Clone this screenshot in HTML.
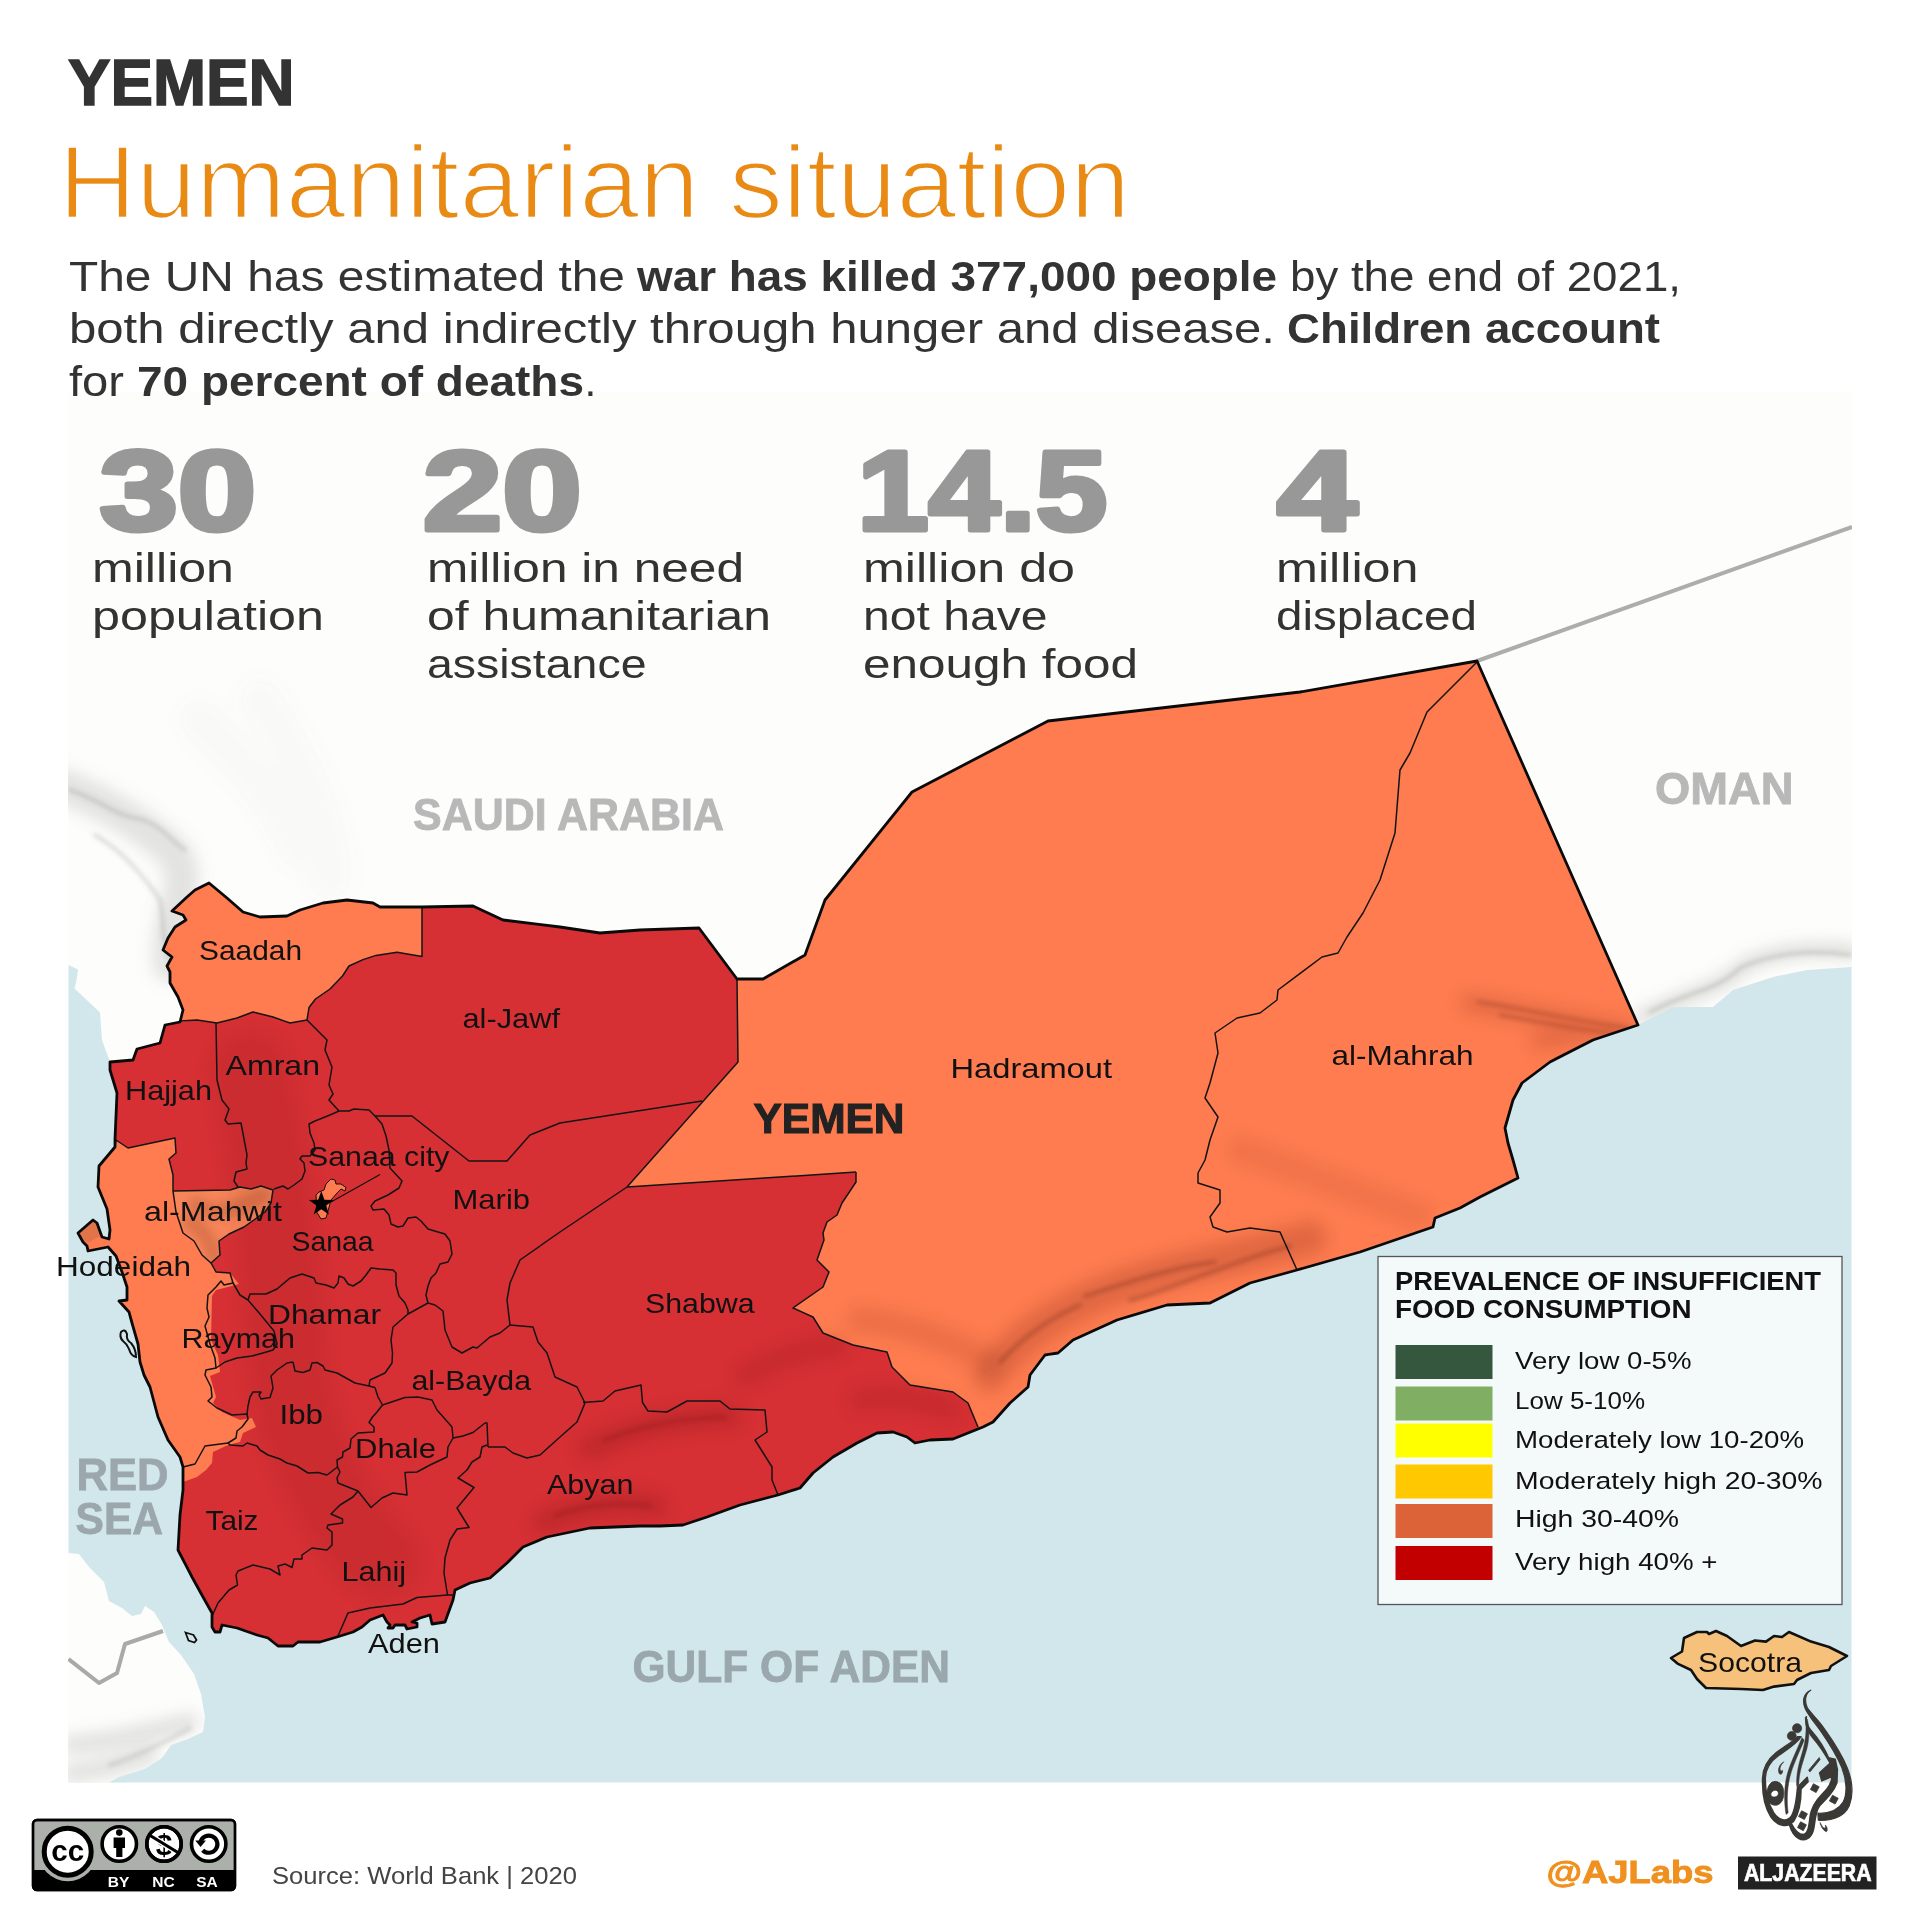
<!DOCTYPE html>
<html lang="en"><head><meta charset="utf-8"><title>Yemen - Humanitarian situation</title>
<style>html,body{margin:0;padding:0;background:#fff}svg{display:block}text{font-family:"Liberation Sans",sans-serif}.b{font-weight:bold}.gl{fill:#111}</style></head><body>
<svg width="1921" height="1921" viewBox="0 0 1921 1921">
<defs><clipPath id="yemclip"><polygon points="209,883 227,898 243,912 260,917 287,916 300,910 323,903 347,900 373,903 380,907 422,907 473,906 503,920 560,927 600,933 640,930 699,928 737,979 763,979 805,955 825,900 912,792 1048,721 1300,692 1477,661 1638,1025 1593,1040 1550,1062 1522,1083 1513,1100 1505,1128 1508,1143 1513,1160 1518,1178 1480,1197 1460,1208 1435,1218 1433,1227 1360,1252 1297,1270 1250,1283 1210,1303 1167,1305 1117,1320 1073,1340 1058,1353 1045,1355 1030,1375 1028,1387 1010,1403 993,1422 983,1427 968,1433 953,1439 930,1440 915,1443 907,1437 893,1432 877,1433 857,1443 833,1457 813,1473 800,1488 778,1495 740,1505 707,1517 683,1525 660,1526 640,1526 590,1528 547,1537 523,1547 507,1563 490,1578 470,1583 455,1590 453,1600 445,1622 432,1624 430,1615 420,1618 412,1622 417,1623 417,1627 407,1629 405,1625 395,1625 393,1628 388,1628 390,1625 387,1622 383,1615 370,1620 362,1627 353,1632 337,1637 320,1642 298,1642 293,1646 278,1646 268,1638 257,1635 237,1628 222,1625 220,1632 215,1632 212,1627 212,1613 203,1597 192,1577 178,1550 180,1515 183,1490 183,1467 180,1457 168,1440 158,1417 150,1387 144,1375 140,1362 138,1344 132,1323 129,1312 119,1301 127,1300 127,1287 122,1272 116,1256 108,1247 88,1251 87,1246 83,1242 78,1233 93,1220 97,1223 102,1237 109,1239 110,1230 107,1209 98,1187 99,1166 115,1147 115,1139 117,1093 110,1070 110,1062 133,1060 137,1049 160,1043 165,1025 180,1022 183,1010 178,997 170,983 170,972 167,966 172,957 163,950 168,938 175,927 186,920 183,915 172,911 187,897 195,890"/></clipPath><clipPath id="mapclip"><rect x="68.5" y="390" width="1783" height="1392.5"/></clipPath><filter id="blur8" x="-20%" y="-20%" width="140%" height="140%"><feGaussianBlur stdDeviation="8"/></filter><filter id="blur4" x="-20%" y="-20%" width="140%" height="140%"><feGaussianBlur stdDeviation="4"/></filter><filter id="blur2" x="-20%" y="-20%" width="140%" height="140%"><feGaussianBlur stdDeviation="2"/></filter><linearGradient id="topfade" x1="0" y1="0" x2="0" y2="1"><stop offset="0" stop-color="#fff" stop-opacity="1"/><stop offset="1" stop-color="#fff" stop-opacity="0"/></linearGradient></defs>
<rect width="1921" height="1921" fill="#fff"/>
<g clip-path="url(#mapclip)">
<rect x="68" y="390" width="1784" height="1393" fill="#fdfdfb"/>
<g fill="none" stroke-linecap="round" stroke-linejoin="round"><g filter="url(#blur8)" stroke="#7d7d79"><path d="M60,785 C110,805 150,830 175,855 C195,885 165,915 170,965" stroke-width="34" opacity="0.20"/><path d="M200,720 C240,760 280,800 300,850 M260,700 C300,760 330,820 330,880" stroke-width="44" opacity="0.03"/><path d="M1640,1018 C1690,992 1720,990 1745,965 C1780,950 1820,948 1855,952" stroke-width="12" opacity="0.30"/><path d="M70,1745 C110,1742 150,1733 190,1722 M70,1774 C100,1770 130,1762 150,1755" stroke-width="18" opacity="0.22"/></g><g filter="url(#blur2)" stroke="#6f6f6b"><path d="M70,790 C100,800 115,815 135,818 C160,822 170,840 185,850 M95,835 C120,850 140,870 160,900 C165,920 160,940 170,958" stroke-width="4" opacity="0.22"/><path d="M1650,1012 C1690,990 1715,992 1740,968 C1775,952 1810,950 1850,955" stroke-width="3" opacity="0.30"/><path d="M110,1765 C140,1755 160,1745 190,1728" stroke-width="4" opacity="0.2"/></g></g>
<polygon points="68.5,965 78,969.5 76.5,980 74.5,988.5 100,1012.5 102,1040 110,1062 110,1062 110,1070 117,1093 115,1139 115,1147 99,1166 98,1187 107,1209 110,1230 109,1239 102,1237 97,1223 93,1220 78,1233 83,1242 87,1246 88,1251 108,1247 116,1256 122,1272 127,1287 127,1300 119,1301 129,1312 132,1323 138,1344 140,1362 144,1375 150,1387 158,1417 168,1440 180,1457 183,1467 183,1490 180,1515 178,1550 192,1577 203,1597 212,1613 212,1627 215,1632 220,1632 222,1625 237,1628 257,1635 268,1638 278,1646 293,1646 298,1642 320,1642 337,1637 353,1632 362,1627 370,1620 383,1615 387,1622 390,1625 388,1628 393,1628 395,1625 405,1625 407,1629 417,1627 417,1623 412,1622 420,1618 430,1615 432,1624 445,1622 453,1600 455,1590 470,1583 490,1578 507,1563 523,1547 547,1537 590,1528 640,1526 660,1526 683,1525 707,1517 740,1505 778,1495 800,1488 813,1473 833,1457 857,1443 877,1433 893,1432 907,1437 915,1443 930,1440 953,1439 968,1433 983,1427 993,1422 1010,1403 1028,1387 1030,1375 1045,1355 1058,1353 1073,1340 1117,1320 1167,1305 1210,1303 1250,1283 1297,1270 1360,1252 1433,1227 1435,1218 1460,1208 1480,1197 1518,1178 1513,1160 1508,1143 1505,1128 1513,1100 1522,1083 1550,1062 1593,1040 1638,1025 1673,1007 1713,1007 1733,990 1773,977 1807,970 1851.5,967 1851.5,1782.5 109,1782.5 119,1777 145,1769 162,1758 171,1745 188,1739 203,1732 205,1717 201,1694 194,1674 181,1655 169,1642 162,1625 154,1612 145,1606 141,1614 132,1616 122,1608 109,1601 104,1582 89,1567 79,1554 68.5,1553" fill="#d2e7ec"/>
<polyline points="1477,661 1852,527" fill="none" stroke="#adadad" stroke-width="4"/>
<polyline points="68.5,1659 99,1683 117,1673 125,1644 163,1631" fill="none" stroke="#a9a9a9" stroke-width="4" stroke-linejoin="round"/>
<rect x="68" y="390" width="1784" height="4" fill="url(#topfade)"/>
<polygon points="209,883 227,898 243,912 260,917 287,916 300,910 323,903 347,900 373,903 380,907 422,907 473,906 503,920 560,927 600,933 640,930 699,928 737,979 763,979 805,955 825,900 912,792 1048,721 1300,692 1477,661 1638,1025 1593,1040 1550,1062 1522,1083 1513,1100 1505,1128 1508,1143 1513,1160 1518,1178 1480,1197 1460,1208 1435,1218 1433,1227 1360,1252 1297,1270 1250,1283 1210,1303 1167,1305 1117,1320 1073,1340 1058,1353 1045,1355 1030,1375 1028,1387 1010,1403 993,1422 983,1427 968,1433 953,1439 930,1440 915,1443 907,1437 893,1432 877,1433 857,1443 833,1457 813,1473 800,1488 778,1495 740,1505 707,1517 683,1525 660,1526 640,1526 590,1528 547,1537 523,1547 507,1563 490,1578 470,1583 455,1590 453,1600 445,1622 432,1624 430,1615 420,1618 412,1622 417,1623 417,1627 407,1629 405,1625 395,1625 393,1628 388,1628 390,1625 387,1622 383,1615 370,1620 362,1627 353,1632 337,1637 320,1642 298,1642 293,1646 278,1646 268,1638 257,1635 237,1628 222,1625 220,1632 215,1632 212,1627 212,1613 203,1597 192,1577 178,1550 180,1515 183,1490 183,1467 180,1457 168,1440 158,1417 150,1387 144,1375 140,1362 138,1344 132,1323 129,1312 119,1301 127,1300 127,1287 122,1272 116,1256 108,1247 88,1251 87,1246 83,1242 78,1233 93,1220 97,1223 102,1237 109,1239 110,1230 107,1209 98,1187 99,1166 115,1147 115,1139 117,1093 110,1070 110,1062 133,1060 137,1049 160,1043 165,1025 180,1022 183,1010 178,997 170,983 170,972 167,966 172,957 163,950 168,938 175,927 186,920 183,915 172,911 187,897 195,890" fill="#d63034"/>
<polygon points="737,979 763,979 805,955 825,900 912,792 1048,721 1300,692 1477,661 1638,1025 1593,1040 1550,1062 1522,1083 1513,1100 1505,1128 1508,1143 1513,1160 1518,1178 1480,1197 1460,1208 1435,1218 1433,1227 1360,1252 1297,1270 1250,1283 1210,1303 1167,1305 1117,1320 1073,1340 1058,1353 1045,1355 1030,1375 1028,1387 1010,1403 993,1422 983,1427 978,1427 968,1403 953,1392 910,1385 892,1367 887,1352 853,1345 823,1333 813,1317 793,1308 823,1287 829,1272 817,1260 824,1240 823,1233 827,1222 837,1215 842,1203 856,1182 856,1172 627,1187 738,1062" fill="#fe7c4f"/>
<polygon points="209,883 227,898 243,912 260,917 287,916 300,910 323,903 347,900 373,903 380,907 422,907 422,956.5 397,952.3 376,955.4 363,959.6 349,966 342.5,976 330,989 315.5,999 309,1007.5 307,1020 290,1023 273,1017 253,1012 237,1018 217,1023 197,1020 180,1022 183,1010 178,997 170,983 170,972 167,966 172,957 163,950 168,938 175,927 186,920 183,915 172,911 187,897 195,890" fill="#fe7c4f"/>
<polygon points="115,1147 116,1140 128,1148 175,1138 176,1153 169,1159 173,1175 173,1191 176,1212 183,1233 194,1241 202,1255 211,1263 216,1272 230,1273 239,1284 224,1288 216,1290 212,1296 211,1340 218,1355 220,1372 210,1376 216,1397 213,1403 222,1412 240,1420 252,1418 256,1427 243,1433 240,1442 228,1445 213,1452 212,1463 206,1470 197,1477 183,1482 183,1467 180,1457 168,1440 158,1417 150,1387 144,1375 140,1362 138,1344 132,1323 129,1312 119,1301 127,1300 127,1287 122,1272 116,1256 108,1247 88,1251 87,1246 83,1242 78,1233 93,1220 97,1223 102,1237 109,1239 110,1230 107,1209 98,1187 99,1166" fill="#fe7c4f"/>
<polygon points="173,1191 230,1190 240,1187 251,1189 261,1186 273,1190 271,1203 265,1212 244,1227 229,1234 219,1241 220,1255 211,1263 202,1255 194,1241 183,1233 176,1212" fill="#f9855a"/>
<clipPath id="mahclip"><polygon points="173,1191 230,1190 240,1187 251,1189 261,1186 273,1190 271,1203 265,1212 244,1227 229,1234 219,1241 220,1255 211,1263 202,1255 194,1241 183,1233 176,1212"/></clipPath>
<g clip-path="url(#mahclip)"><path d="M196,1205 C215,1215 230,1212 262,1196 M190,1222 C205,1232 212,1245 214,1256" fill="none" stroke="#7a3a1c" stroke-width="16" stroke-linecap="round" opacity="0.22" filter="url(#blur4)"/></g>
<polygon points="83,1228 93,1221 97,1224 101,1236 96,1238 88,1243 84,1240 80,1233" fill="#e2744a"/>
<polygon points="316,1195 319,1192 324,1190 326,1184 331,1179 335,1180 336,1184 341,1184 346,1187.5 345,1191 341,1189 337.5,1192.5 331,1200 328,1211 326,1218 321,1219 317,1212.5" fill="#fe7c4f" stroke="#111" stroke-width="1"/>
<g clip-path="url(#yemclip)" fill="none" stroke-linecap="round" stroke-linejoin="round"><g filter="url(#blur8)" stroke="#4a120a"><path d="M990,1375 C1020,1335 1060,1310 1110,1290 C1170,1268 1240,1258 1310,1238" stroke-width="34" opacity="0.16"/><path d="M860,1320 C910,1325 950,1340 990,1362" stroke-width="26" opacity="0.10"/><path d="M1470,1003 C1520,1012 1570,1020 1625,1030 M1540,1040 C1570,1035 1600,1032 1625,1030" stroke-width="20" opacity="0.13"/><path d="M1240,1150 C1300,1170 1360,1195 1420,1215" stroke-width="26" opacity="0.07"/><path d="M590,1448 C640,1425 680,1418 730,1416 M545,1522 C580,1505 620,1500 655,1506" stroke-width="24" opacity="0.15"/><path d="M745,1376 C780,1356 810,1348 838,1345 M860,1400 C890,1395 920,1398 950,1410" stroke-width="22" opacity="0.11"/><path d="M250,1070 C270,1160 280,1260 285,1340 C290,1420 320,1500 380,1560" stroke-width="80" opacity="0.07"/></g><g filter="url(#blur2)" stroke="#3a0d08"><path d="M1085,1296 C1130,1282 1170,1268 1215,1262 M1000,1362 C1025,1335 1050,1318 1080,1305 M1130,1300 C1170,1290 1230,1262 1290,1246" stroke-width="4" opacity="0.22"/><path d="M1478,1002 C1530,1010 1580,1022 1628,1028 M1500,1015 C1540,1022 1580,1030 1615,1033" stroke-width="3.5" opacity="0.2"/><path d="M605,1440 C645,1424 690,1418 725,1417 M555,1516 C590,1503 620,1502 650,1506" stroke-width="4" opacity="0.16"/></g></g>
<polyline points="422,907 422,956.5 397,952.3 376,955.4 363,959.6 349,966 342.5,976 330,989 315.5,999 309,1007.5 307,1020" fill="none" stroke="#141414" stroke-width="1.5" stroke-linejoin="round"/>
<polyline points="307,1020 290,1023 273,1017 253,1012 237,1018 217,1023 197,1020 180,1021" fill="none" stroke="#141414" stroke-width="1.5" stroke-linejoin="round"/>
<polyline points="216,1023 217,1080 222,1100 229,1109 225,1120 228,1124 241,1123 244,1139 247,1155 246,1163 247,1169 236,1172 234,1181 238,1187" fill="none" stroke="#141414" stroke-width="1.5" stroke-linejoin="round"/>
<polyline points="307,1020 327,1040 325,1050 332,1067 329,1085 333,1094 329,1100 339,1111" fill="none" stroke="#141414" stroke-width="1.5" stroke-linejoin="round"/>
<polyline points="339,1111 330,1115 315,1121 309,1124 310,1133 314,1143 315,1150 310,1156 302,1156 300,1159 304,1163 305,1171 302,1179 294,1185 288,1189 283,1186 274,1189" fill="none" stroke="#141414" stroke-width="1.5" stroke-linejoin="round"/>
<polyline points="173,1191 230,1190 240,1187 251,1189 261,1186 273,1190 271,1203 265,1212 244,1227 229,1234 219,1241 220,1255 211,1263 202,1255 194,1241 183,1233 176,1212 173,1191" fill="none" stroke="#141414" stroke-width="1.5" stroke-linejoin="round"/>
<polyline points="115,1147 116,1140 128,1148 175,1138 176,1153 169,1159 173,1175 173,1191" fill="none" stroke="#141414" stroke-width="1.5" stroke-linejoin="round"/>
<polyline points="211,1263 216,1272 230,1273 233,1283 224,1285 221,1281 216,1287 208,1295 207,1308 209,1317 205,1326 210,1344 215,1358 216,1368 206,1370 205,1375 211,1387 212,1397 208,1401 217,1408 232,1415 247,1414 248,1419 242,1427 237,1431 236,1438 228,1443 205,1446 195,1464 183,1467" fill="none" stroke="#141414" stroke-width="1.5" stroke-linejoin="round"/>
<polyline points="233,1283 240,1295 248,1300" fill="none" stroke="#141414" stroke-width="1.5" stroke-linejoin="round"/>
<polyline points="248,1300 250,1294 266,1294 277,1289 290,1278 302,1274 314,1278 316,1283 326,1285 334,1288 338,1283 339,1276 344,1278 348,1284 353,1286 361,1281 366,1275 371,1268 380,1269 393,1270 396,1273 396,1285 399,1296 405,1303 408,1310 408,1314" fill="none" stroke="#141414" stroke-width="1.5" stroke-linejoin="round"/>
<polyline points="248,1300 260,1314 274,1331 277,1344 273,1350 263,1353 252,1356 237,1358 225,1362 216,1368" fill="none" stroke="#141414" stroke-width="1.5" stroke-linejoin="round"/>
<polyline points="339,1111 349,1111 354,1109 369,1110 375,1116 382,1124 386,1136 389,1150 390,1168 402,1181 399,1188 388,1195 375,1201 371,1206 373,1210 384,1209 389,1215 391,1224 398,1227 403,1226 408,1218 416,1217 421,1221 428,1229 438,1232 445,1234 450,1241 452,1254 448,1262 440,1264 436,1273 431,1278 428,1286 426,1295 428,1303" fill="none" stroke="#141414" stroke-width="1.5" stroke-linejoin="round"/>
<polyline points="408,1314 428,1303" fill="none" stroke="#141414" stroke-width="1.5" stroke-linejoin="round"/>
<polyline points="375,1116 412,1116 469,1161 507,1161 530,1135 560,1123 702,1101" fill="none" stroke="#141414" stroke-width="1.5" stroke-linejoin="round"/>
<polyline points="428,1303 435,1305 443,1311 445,1330 452,1347 462,1353 473,1347 477,1348 490,1337 500,1333 510,1325" fill="none" stroke="#141414" stroke-width="1.5" stroke-linejoin="round"/>
<polyline points="627,1187 560,1232 520,1260 510,1283 507,1300 510,1325" fill="none" stroke="#141414" stroke-width="1.5" stroke-linejoin="round"/>
<polyline points="510,1325 533,1327 538,1342 547,1353 555,1377 577,1387 585,1403" fill="none" stroke="#141414" stroke-width="1.5" stroke-linejoin="round"/>
<polyline points="585,1403 577,1422 560,1437 540,1455 527,1458 513,1453 505,1447 488,1447" fill="none" stroke="#141414" stroke-width="1.5" stroke-linejoin="round"/>
<polyline points="453,1438 463,1436 473,1432.5 485,1423 487,1423 488,1447" fill="none" stroke="#141414" stroke-width="1.5" stroke-linejoin="round"/>
<polyline points="583,1402.5 603,1401 615,1391 641,1385 642.5,1402.5 648,1411 667,1412 687,1401 720,1401 730,1409 765,1410 767,1432 755,1440 772,1467 772,1480 778,1495" fill="none" stroke="#141414" stroke-width="1.5" stroke-linejoin="round"/>
<polyline points="856,1172 856,1182 842,1203 837,1215 827,1222 823,1233 824,1240 817,1260 829,1272 823,1287 793,1308 813,1317 823,1333 853,1345 887,1352 892,1367 910,1385 953,1392 968,1403 978,1427" fill="none" stroke="#141414" stroke-width="1.5" stroke-linejoin="round"/>
<polyline points="627,1187 856,1172" fill="none" stroke="#141414" stroke-width="1.5" stroke-linejoin="round"/>
<polyline points="737,979 738,1062 627,1187" fill="none" stroke="#141414" stroke-width="1.5" stroke-linejoin="round"/>
<polyline points="408,1314 393,1327 391,1340 392.5,1353 392,1363 385,1373 370,1380 369,1386" fill="none" stroke="#141414" stroke-width="1.5" stroke-linejoin="round"/>
<polyline points="293,1362 295,1371 303,1372.5 310,1370 312,1363 317,1362.5 323,1366 325,1370 337,1373 355,1383 369,1386 375,1387.5" fill="none" stroke="#141414" stroke-width="1.5" stroke-linejoin="round"/>
<polyline points="293,1362 287,1363 277,1370 271,1376 273,1388 270,1397.5 261,1399 259,1395 261,1392 253,1392 250,1397 248,1406 247,1414" fill="none" stroke="#141414" stroke-width="1.5" stroke-linejoin="round"/>
<polyline points="375,1387.5 378,1397 382.5,1405 377,1412 372.5,1417 369,1422.5 374,1427 374,1432 358,1433 351,1439 350,1448 343,1452 342.5,1457 337,1460 337.5,1467" fill="none" stroke="#141414" stroke-width="1.5" stroke-linejoin="round"/>
<polyline points="337.5,1467 327,1475 318,1472.5 308,1473 297,1466 287,1463 280,1459 268,1455 260,1450 257,1446 247,1443 243,1446 230,1445 227.5,1442.5" fill="none" stroke="#141414" stroke-width="1.5" stroke-linejoin="round"/>
<polyline points="382.5,1405 405,1397.5 418,1397 432,1400 437,1410 452,1427 453,1438 448,1447 447,1457 430,1465 417,1472 405,1472.5 407,1495 393,1493 382,1498 371,1507.5 358,1491 338,1483 337,1478 340,1472 337.5,1467" fill="none" stroke="#141414" stroke-width="1.5" stroke-linejoin="round"/>
<polyline points="358,1491 353,1497 340,1505 331,1514 342.5,1519 342.5,1523 328,1525 327,1528 332,1532 332,1545 327,1550 312,1548 302,1555 302,1559 294,1559 292,1567.5 285,1564 278,1566 280,1575 270,1569 253,1565 238,1571 236,1575 237.5,1585 229,1590 218,1603 212.5,1615" fill="none" stroke="#141414" stroke-width="1.5" stroke-linejoin="round"/>
<polyline points="487,1445 482,1447 480,1457 472,1462 467,1470 458,1478 474,1487.5 457,1508 469,1527.5 457,1529 450,1540 445,1558 444,1573 447.5,1595" fill="none" stroke="#141414" stroke-width="1.5" stroke-linejoin="round"/>
<polyline points="337.5,1637 348,1613 370,1608 403,1604 417,1597.5 447.5,1595 453,1595" fill="none" stroke="#141414" stroke-width="1.5" stroke-linejoin="round"/>
<polyline points="1477,662 1427,712 1410,753 1400,770 1395,833 1380,880 1363,913 1347,937 1338,953 1322,957 1278,990 1277,1000 1260,1013 1237,1018 1215,1033 1218,1053 1210,1083 1205,1098 1218,1117 1210,1140 1205,1160 1198,1173 1198,1183 1220,1190 1220,1203 1210,1217 1213,1227 1227,1232 1250,1228 1280,1232 1297,1270" fill="none" stroke="#141414" stroke-width="1.5" stroke-linejoin="round"/>
<polygon points="209,883 227,898 243,912 260,917 287,916 300,910 323,903 347,900 373,903 380,907 422,907 473,906 503,920 560,927 600,933 640,930 699,928 737,979 763,979 805,955 825,900 912,792 1048,721 1300,692 1477,661 1638,1025 1593,1040 1550,1062 1522,1083 1513,1100 1505,1128 1508,1143 1513,1160 1518,1178 1480,1197 1460,1208 1435,1218 1433,1227 1360,1252 1297,1270 1250,1283 1210,1303 1167,1305 1117,1320 1073,1340 1058,1353 1045,1355 1030,1375 1028,1387 1010,1403 993,1422 983,1427 968,1433 953,1439 930,1440 915,1443 907,1437 893,1432 877,1433 857,1443 833,1457 813,1473 800,1488 778,1495 740,1505 707,1517 683,1525 660,1526 640,1526 590,1528 547,1537 523,1547 507,1563 490,1578 470,1583 455,1590 453,1600 445,1622 432,1624 430,1615 420,1618 412,1622 417,1623 417,1627 407,1629 405,1625 395,1625 393,1628 388,1628 390,1625 387,1622 383,1615 370,1620 362,1627 353,1632 337,1637 320,1642 298,1642 293,1646 278,1646 268,1638 257,1635 237,1628 222,1625 220,1632 215,1632 212,1627 212,1613 203,1597 192,1577 178,1550 180,1515 183,1490 183,1467 180,1457 168,1440 158,1417 150,1387 144,1375 140,1362 138,1344 132,1323 129,1312 119,1301 127,1300 127,1287 122,1272 116,1256 108,1247 88,1251 87,1246 83,1242 78,1233 93,1220 97,1223 102,1237 109,1239 110,1230 107,1209 98,1187 99,1166 115,1147 115,1139 117,1093 110,1070 110,1062 133,1060 137,1049 160,1043 165,1025 180,1022 183,1010 178,997 170,983 170,972 167,966 172,957 163,950 168,938 175,927 186,920 183,915 172,911 187,897 195,890" fill="none" stroke="#0a0a0a" stroke-width="2.8" stroke-linejoin="round"/>
<path d="M185.5,1632.5 l8,2.5 l3,5 l-2,2.5 l-6,-2 z" fill="none" stroke="#111" stroke-width="1.8"/>
<path d="M121,1332 q4,-4 6,2 q-1,6 4,9 q5,6 5,14 q-5,-1 -7,-8 q-2,-5 -6,-8 q-4,-4 -2,-9 z" fill="none" stroke="#111" stroke-width="2"/>
<polygon points="1671,1658 1682,1651.5 1684,1638 1697,1632 1707,1632 1709,1634 1716,1631 1727,1636 1741,1646 1755,1640.5 1766,1641.6 1774,1636 1782,1637 1789,1632 1811,1641.6 1829,1647 1847,1656 1831,1666 1829,1670 1811,1673 1797,1680 1794,1684 1774,1686.6 1763,1690 1741,1689 1706,1688 1697,1679 1691,1670 1677.5,1663.6" fill="#f6c27b" stroke="#111" stroke-width="2.6" stroke-linejoin="round"/>
<line x1="380" y1="1174.5" x2="331" y2="1202" stroke="#111" stroke-width="1.2"/>
<polygon points="321.3,1191 324.4,1199.8 333.7,1200 326.2,1205.6 328.9,1214.5 321.3,1209.2 313.7,1214.5 316.4,1205.6 308.9,1200 318.2,1199.8" fill="#000"/>
</g>
<text x="68" y="105" font-size="65.5" class="b" fill="#333333" textLength="226.6" lengthAdjust="spacingAndGlyphs" stroke="#333" stroke-width="1.6">YEMEN</text>
<text x="58.4" y="217.5" font-size="103.5" fill="#e98a15" textLength="1071.8" lengthAdjust="spacingAndGlyphs" stroke="#fff" stroke-width="2.6">Humanitarian situation</text>
<text x="69" y="290.8" font-size="42.5" fill="#333333" textLength="556" lengthAdjust="spacingAndGlyphs">The UN has estimated the</text>
<text x="637" y="290.8" font-size="42.5" class="b" fill="#333333" textLength="640" lengthAdjust="spacingAndGlyphs">war has killed 377,000 people</text>
<text x="1290" y="290.8" font-size="42.5" fill="#333333" textLength="391" lengthAdjust="spacingAndGlyphs">by the end of 2021,</text>
<text x="69" y="343" font-size="42.5" fill="#333333" textLength="1206" lengthAdjust="spacingAndGlyphs">both directly and indirectly through hunger and disease.</text>
<text x="1287" y="343" font-size="42.5" class="b" fill="#333333" textLength="373" lengthAdjust="spacingAndGlyphs">Children account</text>
<text x="69" y="396" font-size="42.5" fill="#333333" textLength="55" lengthAdjust="spacingAndGlyphs">for</text>
<text x="137" y="396" font-size="42.5" class="b" fill="#333333" textLength="447" lengthAdjust="spacingAndGlyphs">70 percent of deaths</text>
<text x="584.5" y="396" font-size="42.5" fill="#333333">.</text>
<text x="99.4" y="530" font-size="113.5" class="b" fill="#989898" textLength="156.8" lengthAdjust="spacingAndGlyphs" stroke="#989898" stroke-width="5" stroke-linejoin="round">30</text>
<text x="422.8" y="530" font-size="113.5" class="b" fill="#989898" textLength="159" lengthAdjust="spacingAndGlyphs" stroke="#989898" stroke-width="5" stroke-linejoin="round">20</text>
<text x="857.2" y="530" font-size="113.5" class="b" fill="#989898" textLength="250" lengthAdjust="spacingAndGlyphs" stroke="#989898" stroke-width="5" stroke-linejoin="round">14.5</text>
<text x="1277" y="530" font-size="113.5" class="b" fill="#989898" textLength="80.4" lengthAdjust="spacingAndGlyphs" stroke="#989898" stroke-width="5" stroke-linejoin="round">4</text>
<text x="92" y="581.5" font-size="41" fill="#333333" textLength="142" lengthAdjust="spacingAndGlyphs">million</text>
<text x="92" y="629.5" font-size="41" fill="#333333" textLength="232" lengthAdjust="spacingAndGlyphs">population</text>
<text x="427" y="581.5" font-size="41" fill="#333333" textLength="317" lengthAdjust="spacingAndGlyphs">million in need</text>
<text x="427" y="629.5" font-size="41" fill="#333333" textLength="344" lengthAdjust="spacingAndGlyphs">of humanitarian</text>
<text x="427" y="678" font-size="41" fill="#333333" textLength="219.5" lengthAdjust="spacingAndGlyphs">assistance</text>
<text x="863" y="581.5" font-size="41" fill="#333333" textLength="212" lengthAdjust="spacingAndGlyphs">million do</text>
<text x="863" y="629.5" font-size="41" fill="#333333" textLength="184.5" lengthAdjust="spacingAndGlyphs">not have</text>
<text x="863" y="678" font-size="41" fill="#333333" textLength="275" lengthAdjust="spacingAndGlyphs">enough food</text>
<text x="1276" y="581.5" font-size="41" fill="#333333" textLength="142.5" lengthAdjust="spacingAndGlyphs">million</text>
<text x="1276" y="629.5" font-size="41" fill="#333333" textLength="201" lengthAdjust="spacingAndGlyphs">displaced</text>
<text x="413" y="830" font-size="43.5" class="b" fill="#b8b8b8" textLength="311" lengthAdjust="spacingAndGlyphs" stroke="#b8b8b8" stroke-width="0.8">SAUDI ARABIA</text>
<text x="1655" y="803.5" font-size="43.5" class="b" fill="#b8b8b8" textLength="138.5" lengthAdjust="spacingAndGlyphs" stroke="#b8b8b8" stroke-width="0.8">OMAN</text>
<text x="753.5" y="1132.5" font-size="42.5" class="b" fill="#222" textLength="151" lengthAdjust="spacingAndGlyphs" stroke="#222" stroke-width="1.1">YEMEN</text>
<text x="76.5" y="1489.5" font-size="44" class="b" fill="#9ba7ac" textLength="92" lengthAdjust="spacingAndGlyphs" stroke="#9ba7ac" stroke-width="0.8">RED</text>
<text x="75.5" y="1533.5" font-size="44" class="b" fill="#9ba7ac" textLength="87.5" lengthAdjust="spacingAndGlyphs" stroke="#9ba7ac" stroke-width="0.8">SEA</text>
<text x="632.5" y="1681.7" font-size="44" class="b" fill="#9aa7ac" textLength="317.5" lengthAdjust="spacingAndGlyphs" stroke="#9aa7ac" stroke-width="0.8">GULF OF ADEN</text>
<text x="199" y="959.5" font-size="28" class="gl" textLength="103" lengthAdjust="spacingAndGlyphs">Saadah</text>
<text x="462.5" y="1027.5" font-size="28" class="gl" textLength="97.5" lengthAdjust="spacingAndGlyphs">al-Jawf</text>
<text x="225.5" y="1075" font-size="28" class="gl" textLength="94.5" lengthAdjust="spacingAndGlyphs">Amran</text>
<text x="125" y="1099.5" font-size="28" class="gl" textLength="87" lengthAdjust="spacingAndGlyphs">Hajjah</text>
<text x="308" y="1166" font-size="28" class="gl" textLength="141.5" lengthAdjust="spacingAndGlyphs">Sanaa city</text>
<text x="452.5" y="1208.5" font-size="28" class="gl" textLength="77.5" lengthAdjust="spacingAndGlyphs">Marib</text>
<text x="144" y="1221" font-size="28" class="gl" textLength="138" lengthAdjust="spacingAndGlyphs">al-Mahwit</text>
<text x="291.5" y="1250.5" font-size="28" class="gl" textLength="82" lengthAdjust="spacingAndGlyphs">Sanaa</text>
<text x="56" y="1276" font-size="28" class="gl" textLength="135" lengthAdjust="spacingAndGlyphs">Hodeidah</text>
<text x="268" y="1323.5" font-size="28" class="gl" textLength="113" lengthAdjust="spacingAndGlyphs">Dhamar</text>
<text x="181.5" y="1347.5" font-size="28" class="gl" textLength="113.5" lengthAdjust="spacingAndGlyphs">Raymah</text>
<text x="411.5" y="1390" font-size="28" class="gl" textLength="119.5" lengthAdjust="spacingAndGlyphs">al-Bayda</text>
<text x="279.5" y="1424" font-size="28" class="gl" textLength="43.5" lengthAdjust="spacingAndGlyphs">Ibb</text>
<text x="355" y="1457.5" font-size="28" class="gl" textLength="81" lengthAdjust="spacingAndGlyphs">Dhale</text>
<text x="547" y="1494" font-size="28" class="gl" textLength="86.5" lengthAdjust="spacingAndGlyphs">Abyan</text>
<text x="205.5" y="1529.5" font-size="28" class="gl" textLength="53" lengthAdjust="spacingAndGlyphs">Taiz</text>
<text x="341.5" y="1580.5" font-size="28" class="gl" textLength="64.5" lengthAdjust="spacingAndGlyphs">Lahij</text>
<text x="368" y="1652.5" font-size="28" class="gl" textLength="72" lengthAdjust="spacingAndGlyphs">Aden</text>
<text x="645" y="1312.5" font-size="28" class="gl" textLength="109.5" lengthAdjust="spacingAndGlyphs">Shabwa</text>
<text x="950.5" y="1077.5" font-size="28" class="gl" textLength="161.5" lengthAdjust="spacingAndGlyphs">Hadramout</text>
<text x="1331.5" y="1065" font-size="28" class="gl" textLength="142" lengthAdjust="spacingAndGlyphs">al-Mahrah</text>
<text x="1698" y="1672" font-size="28" class="gl" textLength="104" lengthAdjust="spacingAndGlyphs">Socotra</text>
<rect x="1378" y="1256.5" width="464" height="348" fill="#f6fafb" fill-opacity="0.93" stroke="#555" stroke-width="1.3"/>
<text x="1395" y="1290" font-size="26.2" class="b" fill="#111" textLength="426" lengthAdjust="spacingAndGlyphs">PREVALENCE OF INSUFFICIENT</text>
<text x="1395" y="1318" font-size="26.2" class="b" fill="#111" textLength="296.5" lengthAdjust="spacingAndGlyphs">FOOD CONSUMPTION</text>
<rect x="1395.5" y="1345" width="97" height="34" fill="#34573e"/>
<text x="1515" y="1368.5" font-size="24.5" fill="#111" textLength="176.5" lengthAdjust="spacingAndGlyphs">Very low 0-5%</text>
<rect x="1395.5" y="1386.5" width="97" height="34" fill="#80ae62"/>
<text x="1515" y="1409" font-size="24.5" fill="#111" textLength="130" lengthAdjust="spacingAndGlyphs">Low 5-10%</text>
<rect x="1395.5" y="1423.5" width="97" height="34" fill="#ffff00"/>
<text x="1515" y="1447.5" font-size="24.5" fill="#111" textLength="289" lengthAdjust="spacingAndGlyphs">Moderately low 10-20%</text>
<rect x="1395.5" y="1464.5" width="97" height="34" fill="#ffc800"/>
<text x="1515" y="1488.5" font-size="24.5" fill="#111" textLength="307.5" lengthAdjust="spacingAndGlyphs">Moderately high 20-30%</text>
<rect x="1395.5" y="1504" width="97" height="34" fill="#dc6338"/>
<text x="1515" y="1527" font-size="24.5" fill="#111" textLength="164" lengthAdjust="spacingAndGlyphs">High 30-40%</text>
<rect x="1395.5" y="1546" width="97" height="34" fill="#c30000"/>
<text x="1515" y="1569.5" font-size="24.5" fill="#111" textLength="202.5" lengthAdjust="spacingAndGlyphs">Very high 40% +</text>
<g><rect x="33" y="1820" width="202" height="70" rx="4" fill="#abb1aa" stroke="#000" stroke-width="2.4"/><path d="M33,1870 H235 V1887 a3,3 0 0 1 -3,3 H36 a3,3 0 0 1 -3,-3 z" fill="#000"/><circle cx="67.7" cy="1851.7" r="29.5" fill="#abb1aa"/><rect x="33" y="1820" width="202" height="70" rx="4" fill="none" stroke="#000" stroke-width="2.4"/><circle cx="67.7" cy="1851.7" r="23.5" fill="#fff" stroke="#000" stroke-width="5"/><text x="67.7" y="1861" font-size="29" class="b" fill="#000" text-anchor="middle" textLength="33" lengthAdjust="spacingAndGlyphs">cc</text><circle cx="119.3" cy="1844" r="17.2" fill="#fff" stroke="#000" stroke-width="3.6"/><circle cx="164" cy="1844" r="17.2" fill="#fff" stroke="#000" stroke-width="3.6"/><circle cx="208.7" cy="1844" r="17.2" fill="#fff" stroke="#000" stroke-width="3.6"/><circle cx="119.3" cy="1832.6" r="3.3" fill="#000"/><path d="M113.6,1837.5 h11.4 v10.5 h-2.6 v9 h-6.2 v-9 h-2.6 z" fill="#000"/><text x="164" y="1854.5" font-size="30" class="b" fill="#000" text-anchor="middle">$</text><line x1="149" y1="1835" x2="179" y2="1853" stroke="#fff" stroke-width="6"/><line x1="148.5" y1="1834.5" x2="179.5" y2="1853.5" stroke="#000" stroke-width="3.2"/><circle cx="164" cy="1844" r="17.2" fill="none" stroke="#000" stroke-width="3.6"/><path d="M200.5,1842 a8.6,8.6 0 1 1 2.2,8.2" fill="none" stroke="#000" stroke-width="4.2"/><path d="M195.3,1840.5 h10.6 l-5.3,6.6 z" fill="#000"/><text x="118.5" y="1886.5" font-size="15.5" class="b" fill="#fff" text-anchor="middle">BY</text><text x="163.5" y="1886.5" font-size="15.5" class="b" fill="#fff" text-anchor="middle">NC</text><text x="207" y="1886.5" font-size="15.5" class="b" fill="#fff" text-anchor="middle">SA</text></g>
<text x="272" y="1883.5" font-size="24.6" fill="#444" textLength="305" lengthAdjust="spacingAndGlyphs">Source: World Bank | 2020</text>
<text x="1546.5" y="1882.5" font-size="31.5" class="b" fill="#f0901e" textLength="167" lengthAdjust="spacingAndGlyphs" stroke="#f0901e" stroke-width="0.9">@AJLabs</text>
<rect x="1738" y="1856.5" width="138.5" height="33" fill="#222"/>
<text x="1744" y="1880.5" font-size="24" class="b" fill="#fff" textLength="127.5" lengthAdjust="spacingAndGlyphs" stroke="#fff" stroke-width="0.7">ALJAZEERA</text>
<g transform="translate(1740,1680) scale(0.0885)" fill="#3a3936" stroke="#3a3936" stroke-width="8" stroke-linejoin="round"><path stroke-width="13" d="M800,115 C740,150 725,230 760,310 C800,380 880,440 960,560 C1060,700 1160,860 1215,1000 C1265,1130 1285,1290 1235,1420 C1180,1540 1060,1590 885,1585 L880,1505 C1010,1510 1110,1470 1165,1380 C1215,1280 1205,1130 1150,990 C1100,870 1010,720 920,590 C850,490 770,400 735,320 C700,230 720,150 800,115 Z"/><path stroke-width="18" d="M750,415 C735,470 760,520 810,580 C880,660 950,760 1000,880 L1075,895 L1100,1010 L1095,1160 C1060,1260 980,1340 900,1420 C850,1480 850,1600 830,1690 C805,1790 730,1830 660,1790 C610,1760 580,1710 560,1640 L585,1630 C620,1700 660,1745 715,1745 C770,1740 780,1650 790,1560 C800,1450 850,1370 930,1290 C1000,1220 1040,1160 1040,1090 L925,1140 L900,1050 L1020,940 C970,850 900,740 830,660 C770,590 730,510 750,415 Z"/><path stroke-width="17" d="M690,640 C640,720 540,780 440,850 C340,920 290,1000 285,1110 C285,1250 320,1400 380,1500 C440,1590 530,1610 580,1540 C630,1460 640,1330 650,1210 L760,1100 L770,1150 L690,1230 C690,1360 670,1500 610,1590 C540,1680 420,1650 350,1550 C280,1440 250,1270 255,1110 C260,990 310,900 410,820 C500,750 600,700 650,640 Z"/><circle cx="645" cy="545" r="52"/><circle cx="585" cy="632" r="50"/><path fill-rule="evenodd" d="M400,1145 C470,1150 500,1220 495,1290 C490,1370 450,1420 390,1415 C330,1410 300,1340 305,1270 C310,1200 345,1145 400,1145 Z M395,1245 C365,1250 345,1275 350,1300 C355,1325 395,1330 420,1310 C445,1290 435,1245 395,1245 Z"/><path stroke-width="5" d="M735,420 C760,560 740,700 700,830 C660,960 635,1060 640,1200 L665,1185 C665,1060 700,960 740,830 C785,700 790,560 760,440 Z"/><path stroke-width="5" d="M700,650 C640,800 560,950 525,1100 C495,1240 500,1400 520,1520 L545,1500 C530,1390 530,1250 560,1110 C595,960 670,820 725,680 Z"/><rect x="808" y="1185" width="74" height="74" transform="rotate(28 845 1222)"/><rect x="1023" y="1315" width="74" height="74" transform="rotate(28 1060 1352)"/><rect x="675" y="1490" width="74" height="74" transform="rotate(28 712 1527)"/><rect x="663" y="1615" width="74" height="74" transform="rotate(28 700 1652)"/><path d="M895,875 L905,900 L790,1040 L775,1020 Z"/><path d="M495,925 C450,950 420,1010 445,1060 C470,1075 485,1050 480,1020 C465,1040 445,1020 455,985 C465,955 480,940 495,925 Z"/><path d="M905,1610 C915,1660 940,1700 975,1715 C995,1700 985,1660 965,1640 C970,1670 960,1680 945,1670 C925,1655 915,1630 905,1610 Z"/></g>
</svg></body></html>
